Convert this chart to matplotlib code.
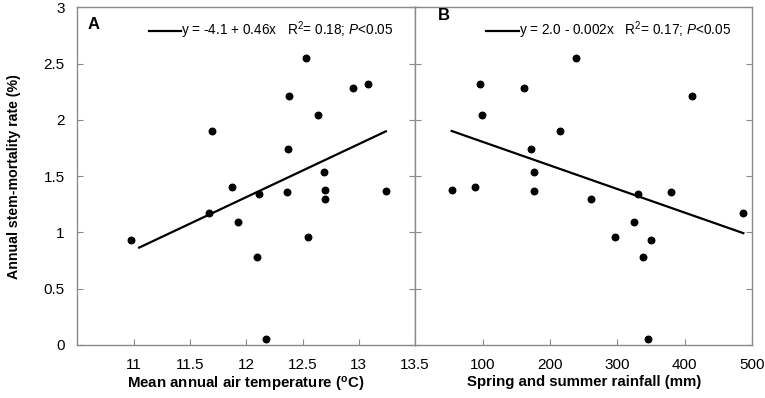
import matplotlib
matplotlib.use("Agg")
import matplotlib.pyplot as plt
from matplotlib.lines import Line2D

plt.rcParams["font.family"] = ["Liberation Sans", "DejaVu Sans"]
plt.rcParams["mathtext.fontset"] = "custom"
plt.rcParams["mathtext.rm"] = "Liberation Sans"
plt.rcParams["mathtext.it"] = "Liberation Sans:italic"
plt.rcParams["mathtext.bf"] = "Liberation Sans:bold"

# --- data ---
mortality = [0.93, 1.17, 1.90, 1.40, 1.09, 0.78, 1.34, 0.05, 1.36, 1.74,
             2.21, 2.55, 0.96, 2.04, 1.54, 1.38, 1.30, 2.28, 2.32, 1.37]
temperature = [10.98, 11.67, 11.70, 11.87, 11.93, 12.10, 12.11, 12.18, 12.36, 12.37,
               12.38, 12.53, 12.55, 12.64, 12.69, 12.70, 12.70, 12.95, 13.08, 13.24]
rainfall = [349.8, 486.2, 214.3, 88.7, 324.1, 338.4, 330.5, 346.0, 378.8, 172.4,
            411.3, 238.9, 297.0, 99.5, 175.9, 55.2, 261.1, 161.0, 95.6, 175.9]

# regression lines as drawn (intercept, slope) and their x extent
fit_a = (-4.35, 0.472)
range_a = (11.05, 13.24)
fit_b = (2.016, -0.0021)
range_b = (54.2, 486.7)
label_a = "y = -4.1 + 0.46x   R$^2$= 0.18; $P$<0.05"
label_b = "y = 2.0 - 0.002x   R$^2$= 0.17; $P$<0.05"

SPINE = "#8a8a8a"

fig = plt.figure(figsize=(7.65, 3.98), dpi=100)
l, m, r, b, t = 0.1009, 0.5427, 0.9834, 0.1332, 0.9812
ax1 = fig.add_axes([l, b, m - l, t - b])
ax2 = fig.add_axes([m, b, r - m, t - b])


def style(ax):
    for s in ax.spines.values():
        s.set_color(SPINE)
        s.set_linewidth(1.0)
    ax.tick_params(direction="in", length=4, color=SPINE, labelsize=11,
                   left=True, right=True, top=False, bottom=True)
    ax.tick_params(axis="x", pad=9.5)
    ax.tick_params(axis="y", pad=9)


def panel(ax, x, fit, xr, lbl, letter, lpos):
    ax.scatter(x, mortality, s=22, color="black", zorder=3)
    ys = [fit[0] + fit[1] * v for v in xr]
    ax.plot(xr, ys, color="black", lw=1.6)
    h = Line2D([], [], color="black", lw=1.6)
    ax.legend([h], [lbl], loc="upper right", frameon=False, fontsize=9.8,
              handlelength=2.4, handletextpad=0.0, borderaxespad=0.3,
              bbox_to_anchor=(0.965, 0.992))
    ax.text(lpos[0], lpos[1], letter, transform=ax.transAxes, fontsize=12,
            fontweight="bold", va="top", ha="left")
    ax.set_ylim(0, 3)
    style(ax)


panel(ax1, temperature, fit_a, range_a, label_a, "A", (0.031, 0.972))
ax1.set_xlim(10.5, 13.5)
ax1.set_xticks([11, 11.5, 12, 12.5, 13, 13.5])
ax1.set_xticklabels(["11", "11.5", "12", "12.5", "13", "13.5"])
ax1.set_yticks([0, 0.5, 1, 1.5, 2, 2.5, 3])
ax1.set_yticklabels(["0", "0.5", "1", "1.5", "2", "2.5", "3"])
ax1.set_ylabel("Annual stem-mortality rate (%)", fontsize=10.2, fontweight="bold")
ax1.yaxis.set_label_coords(-0.166, 0.5)
ax1.set_xlabel("Mean annual air temperature ($^\\mathbf{o}$C)", fontsize=10.8,
               fontweight="bold")
ax1.xaxis.set_label_coords(0.5, -0.09)

panel(ax2, rainfall, fit_b, range_b, label_b, "B", (0.066, 0.998))
ax2.set_xlim(0, 500)
ax2.set_xticks([100, 200, 300, 400, 500])
ax2.set_yticks([0, 0.5, 1, 1.5, 2, 2.5, 3])
ax2.tick_params(labelleft=False)
ax2.set_xlabel("Spring and summer rainfall (mm)", fontsize=10.8, fontweight="bold")
ax2.xaxis.set_label_coords(0.5, -0.09)

fig.savefig("out.png", dpi=100)
